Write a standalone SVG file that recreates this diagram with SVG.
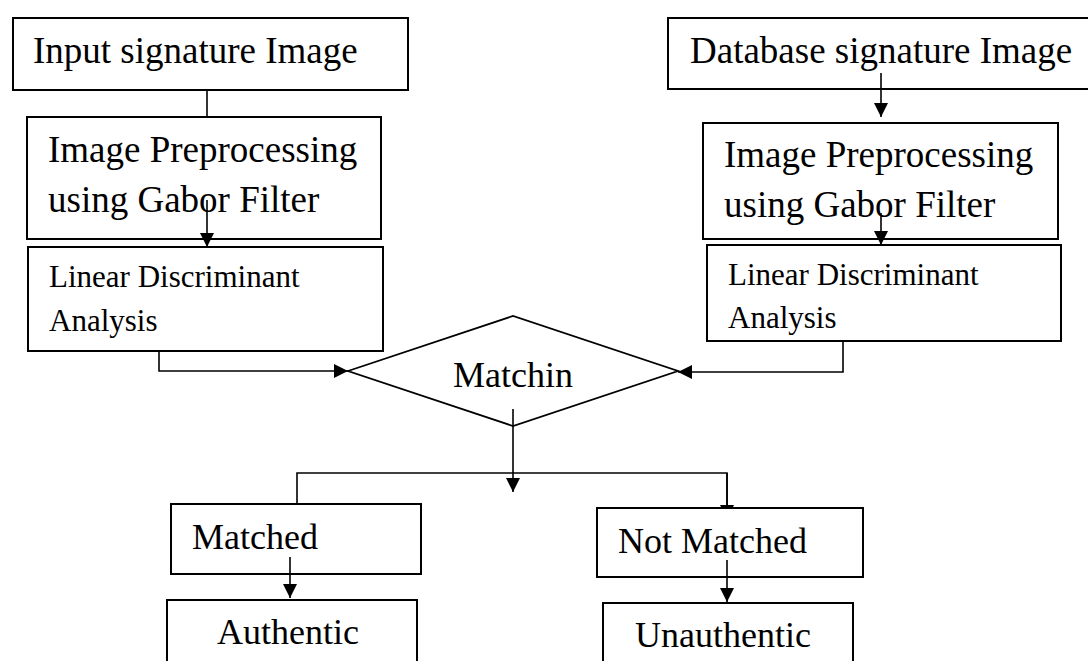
<svg xmlns="http://www.w3.org/2000/svg" width="1088" height="661" viewBox="0 0 1088 661">
<style>
.box{fill:#fff;stroke:#000;stroke-width:2}
.t{font-family:"Liberation Serif","Times New Roman",serif;fill:#000}
.big{font-size:37px}
.mid{font-size:36px}
.sm{font-size:31px}
.ln{fill:none;stroke:#000;stroke-width:1.6}
</style>
<defs>
<marker id="ah" viewBox="0 0 14 14" refX="14" refY="7" markerWidth="14" markerHeight="14" markerUnits="userSpaceOnUse" orient="auto">
<path d="M0,0 L14,7 L0,14 Z" fill="#000"/>
</marker>
</defs>
<rect width="1088" height="661" fill="#fff"/>
<g id="connectors-under">
<path class="ln" d="M727,473 L727,519" marker-end="url(#ah)"/>
</g>
<g id="input">
<rect class="box" x="13" y="18" width="395" height="72"/>
<text class="t big" x="33" y="63">Input signature Image</text>
</g>
<g id="database">
<rect class="box" x="668" y="18" width="424" height="71"/>
<text class="t big" x="690" y="63">Database signature Image</text>
</g>
<g id="prep-left">
<rect class="box" x="27" y="117" width="354" height="122"/>
<text class="t big" x="48" y="162">Image Preprocessing</text>
<text class="t big" x="48" y="212">using Gabor Filter</text>
</g>
<g id="prep-right">
<rect class="box" x="703" y="123" width="355" height="116"/>
<text class="t big" x="724" y="167">Image Preprocessing</text>
<text class="t big" x="724" y="217">using Gabor Filter</text>
</g>
<g id="lda-left">
<rect class="box" x="28" y="247" width="355" height="104"/>
<text class="t sm" x="49" y="287">Linear Discriminant</text>
<text class="t sm" x="49" y="331">Analysis</text>
</g>
<g id="lda-right">
<rect class="box" x="707" y="245" width="354" height="96"/>
<text class="t sm" x="728" y="285">Linear Discriminant</text>
<text class="t sm" x="728" y="328">Analysis</text>
</g>
<g id="matching">
<polygon points="348,371 513,316 678,371 513,426" fill="#fff" stroke="#000" stroke-width="1.8"/>
<text class="t mid" x="453" y="387">Matchin</text>
</g>
<g id="matched">
<rect class="box" x="171" y="504" width="250" height="70"/>
<text class="t mid" x="192" y="549">Matched</text>
</g>
<g id="not-matched">
<rect class="box" x="597" y="508" width="266" height="69"/>
<text class="t mid" x="618" y="553">Not Matched</text>
</g>
<g id="authentic">
<rect class="box" x="167" y="600" width="250" height="70"/>
<text class="t mid" x="217" y="644">Authentic</text>
</g>
<g id="unauthentic">
<rect class="box" x="603" y="603" width="250" height="70"/>
<text class="t mid" x="635" y="647">Unauthentic</text>
</g>
<g id="connectors">
<path class="ln" d="M207,90 L207,117"/>
<path class="ln" d="M881,73 L881,117" marker-end="url(#ah)"/>
<path class="ln" d="M207,200 L207,247" marker-end="url(#ah)"/>
<path class="ln" d="M881,213 L881,245" marker-end="url(#ah)"/>
<path class="ln" d="M159,351 L159,371 L348,371" marker-end="url(#ah)"/>
<path class="ln" d="M843,341 L843,372 L678,372" marker-end="url(#ah)"/>
<path class="ln" d="M513,409 L513,492" marker-end="url(#ah)"/>
<path class="ln" d="M297,504 L297,473 L727,473 L727,508"/>
<path class="ln" d="M290,557 L290,598" marker-end="url(#ah)"/>
<path class="ln" d="M727,560 L727,602" marker-end="url(#ah)"/>
</g>
</svg>
